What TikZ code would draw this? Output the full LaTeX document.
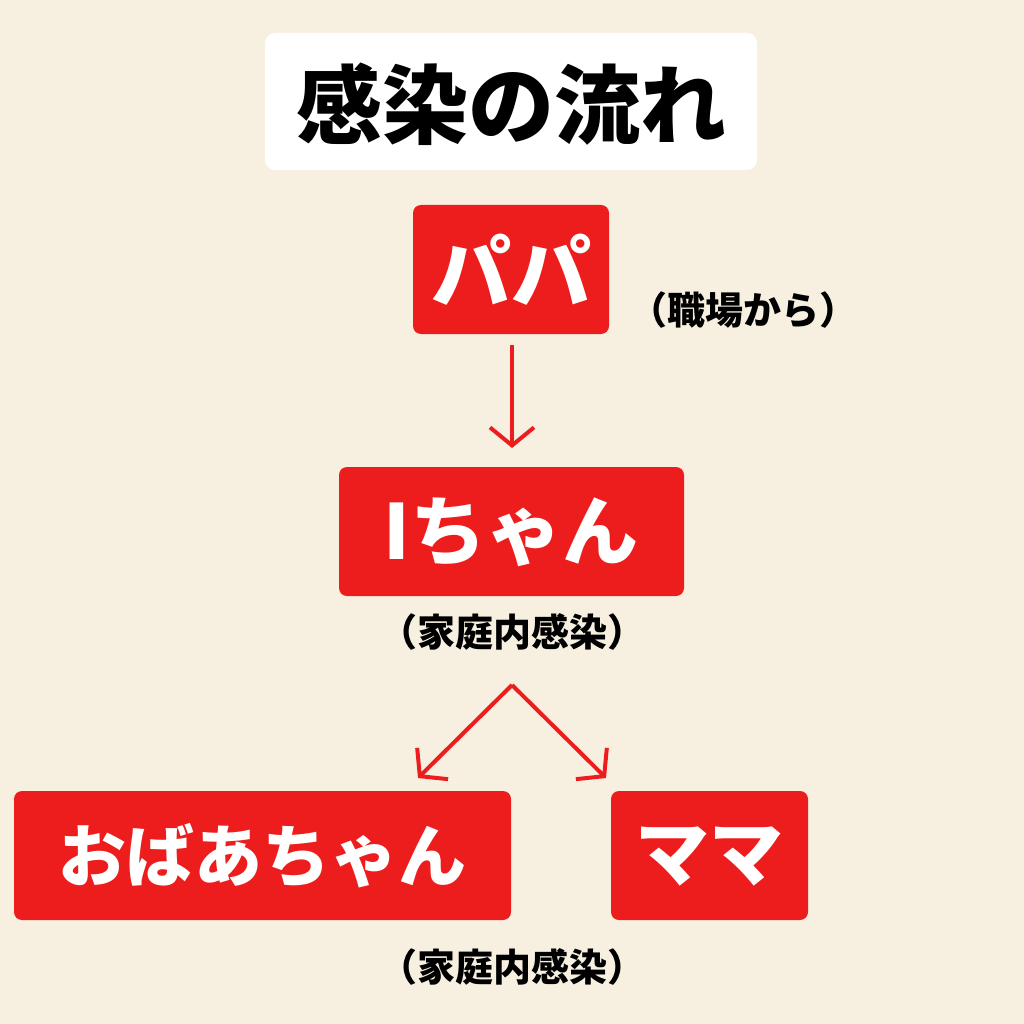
\documentclass[tikz,border=0pt]{standalone}
\usepackage{fontspec}
\newfontfamily\cjk{Noto Sans CJK JP}
\usetikzlibrary{arrows.meta}
\definecolor{bg}{HTML}{F7F0E1}
\definecolor{rd}{HTML}{EE1D1D}
\tikzset{rbox/.style={fill=rd,rounded corners=8pt,text=white,font=\cjk\bfseries},
 lab/.style={font=\cjk\bfseries\fontsize{38}{40}\selectfont,text=black},
 arr/.style={draw=rd,line width=4pt,-{Straight Barb[length=18pt,width=44pt,line width=4pt]}}}
\begin{document}
\begin{tikzpicture}[x=1pt,y=-1pt]
\fill[bg] (0,0) rectangle (1024,1024);
\useasboundingbox (0,0) rectangle (1024,1024);
\fill[white,rounded corners=10pt] (265,33) rectangle (757,170);
\node[font=\cjk\bfseries\fontsize{86}{90}\selectfont] (title) at (511,104) {感染の流れ};
\fill[rd,rounded corners=8pt] (413,205) rectangle (609,334);
\node[rbox,font=\cjk\bfseries\fontsize{80}{84}\selectfont] (papa) at (511,270) {パパ};
\node[lab] (work) at (743,310) {（職場から）};
\fill[rd,rounded corners=8pt] (339,467) rectangle (684,596);
\node[rbox,font=\cjk\bfseries\fontsize{76}{80}\selectfont] (ichan) at (511,532) {Iちゃん};
\node[lab] (home1) at (512,632) {（家庭内感染）};
\coordinate (p1) at (512,345);
\coordinate (p2) at (512,448);
\draw[arr] (p1) -- (p2);
\coordinate (apex) at (512,685);
\coordinate (l) at (418,778);
\coordinate (r) at (606,778);
\draw[arr] (apex) -- (l);
\draw[arr] (apex) -- (r);
\fill[rd,rounded corners=8pt] (14,791) rectangle (511,920);
\node[rbox,font=\cjk\bfseries\fontsize{68}{72}\selectfont] (oba) at (262,856) {おばあちゃん};
\fill[rd,rounded corners=8pt] (611,791) rectangle (808,920);
\node[rbox,font=\cjk\bfseries\fontsize{74}{78}\selectfont] (mama) at (709,856) {ママ};
\node[lab] (home2) at (512,967) {（家庭内感染）};
\end{tikzpicture}
\end{document}
